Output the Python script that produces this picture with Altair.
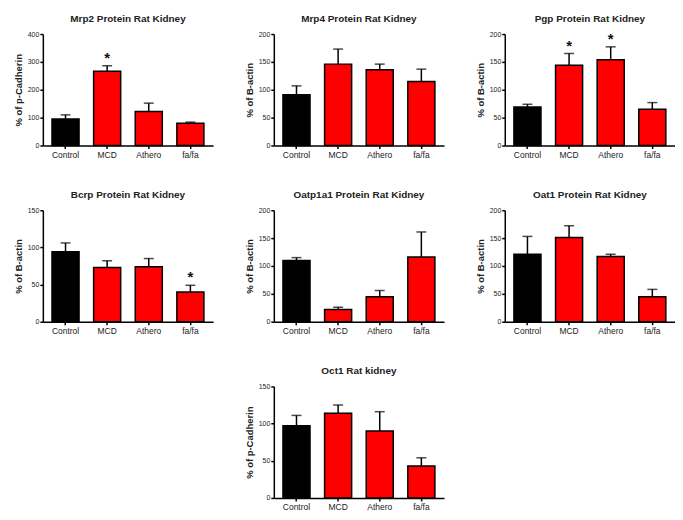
import altair as alt
import pandas as pd

groups = ["Control", "MCD", "Athero", "fa/fa"]
fills = ["#000000", "#ff0000", "#ff0000", "#ff0000"]

titles = ["Mrp2 Protein Rat Kidney", "Mrp4 Protein Rat Kidney", "Pgp Protein Rat Kidney",
          "Bcrp Protein Rat Kidney", "Oatp1a1 Protein Rat Kidney", "Oat1 Protein Rat Kidney",
          "Oct1 Rat kidney"]
y_titles = ["% of p-Cadherin", "% of B-actin", "% of B-actin",
            "% of B-actin", "% of B-actin", "% of B-actin", "% of p-Cadherin"]
y_max = [400, 200, 200, 150, 200, 200, 150]
y_step = [100, 50, 50, 50, 50, 50, 50]

mrp2_mean = [95, 266, 122, 80]
mrp2_sem = [15, 20, 30, 4]
mrp2_star = [0, 1, 0, 0]

mrp4_mean = [91, 146, 136, 115]
mrp4_sem = [16, 27, 10, 22]
mrp4_star = [0, 0, 0, 0]

pgp_mean = [69, 144, 154, 65]
pgp_sem = [5, 21, 23, 12]
pgp_star = [0, 1, 1, 0]

bcrp_mean = [94, 73, 74, 40]
bcrp_sem = [12, 9, 11, 9]
bcrp_star = [0, 0, 0, 1]

oatp_mean = [110, 22, 45, 116]
oatp_sem = [5, 4, 11, 45]
oatp_star = [0, 0, 0, 0]

oat1_mean = [121, 151, 117, 45]
oat1_sem = [32, 21, 4, 13]
oat1_star = [0, 0, 0, 0]

oct1_mean = [97, 114, 90, 43]
oct1_sem = [14, 11, 26, 11]
oct1_star = [0, 0, 0, 0]

series = [
    (mrp2_mean, mrp2_sem, mrp2_star),
    (mrp4_mean, mrp4_sem, mrp4_star),
    (pgp_mean, pgp_sem, pgp_star),
    (bcrp_mean, bcrp_sem, bcrp_star),
    (oatp_mean, oatp_sem, oatp_star),
    (oat1_mean, oat1_sem, oat1_star),
    (oct1_mean, oct1_sem, oct1_star),
]

W, H = 171, 112


def panel(i):
    means, sems, stars = series[i]
    df = pd.DataFrame({
        "group": groups,
        "mean": means,
        "top": [m + s for m, s in zip(means, sems)],
        "star": ["*" if s else "" for s in stars],
        "fill": fills,
    })
    xs = alt.X("group:N", sort=groups, title=None,
               scale=alt.Scale(paddingInner=0.35, paddingOuter=0.22),
               axis=alt.Axis(labelAngle=0))
    ticks = list(range(0, y_max[i] + 1, y_step[i]))

    def ys(field):
        return alt.Y(field, scale=alt.Scale(domain=[0, y_max[i]], nice=False, zero=True),
                     title=y_titles[i], axis=alt.Axis(values=ticks))

    base = alt.Chart(df)
    bars = base.mark_bar(stroke="black", strokeWidth=1.5).encode(
        x=xs, y=ys("mean:Q"), fill=alt.Fill("fill:N", scale=None))
    err = base.mark_rule(color="black", strokeWidth=1.5).encode(
        x=xs, y=ys("mean:Q"), y2="top:Q")
    cap = base.mark_tick(color="black", size=10, thickness=1.5).encode(
        x=xs, y=ys("top:Q"))
    star = base.mark_text(fontSize=15, fontWeight="bold", color="#111",
                          baseline="alphabetic", dy=-3).encode(
        x=xs, y=ys("top:Q"), text="star:N")
    return alt.layer(bars, err, cap, star).properties(
        width=W, height=H, title=titles[i])


row1 = alt.hconcat(panel(0), panel(1), panel(2), spacing=31)
row2 = alt.hconcat(panel(3), panel(4), panel(5), spacing=31)
row3 = alt.hconcat(panel(6), spacing=31)

chart = alt.vconcat(row1, row2, row3, spacing=31, center=True).properties(
    padding={"left": 5, "top": 5, "right": 0, "bottom": 0}
).configure_view(stroke=None).configure_axis(
    grid=False, domainColor="black", domainWidth=1.5, tickColor="black",
    tickWidth=1.5, tickSize=3, labelFont="Liberation Sans", labelColor="#222",
    titleFont="Liberation Sans", titleColor="#222", titleFontWeight="bold",
).configure_axisX(
    labelFontSize=8.5, labelPadding=2
).configure_axisY(
    labelFontSize=7, labelPadding=1, titleFontSize=9.5, titlePadding=4
).configure_title(
    font="Liberation Sans", fontSize=10, fontWeight="bold", color="#222",
    offset=6, frame="group", anchor="middle"
)

chart.save("out.html", embed_options={"renderer": "svg", "actions": False})
